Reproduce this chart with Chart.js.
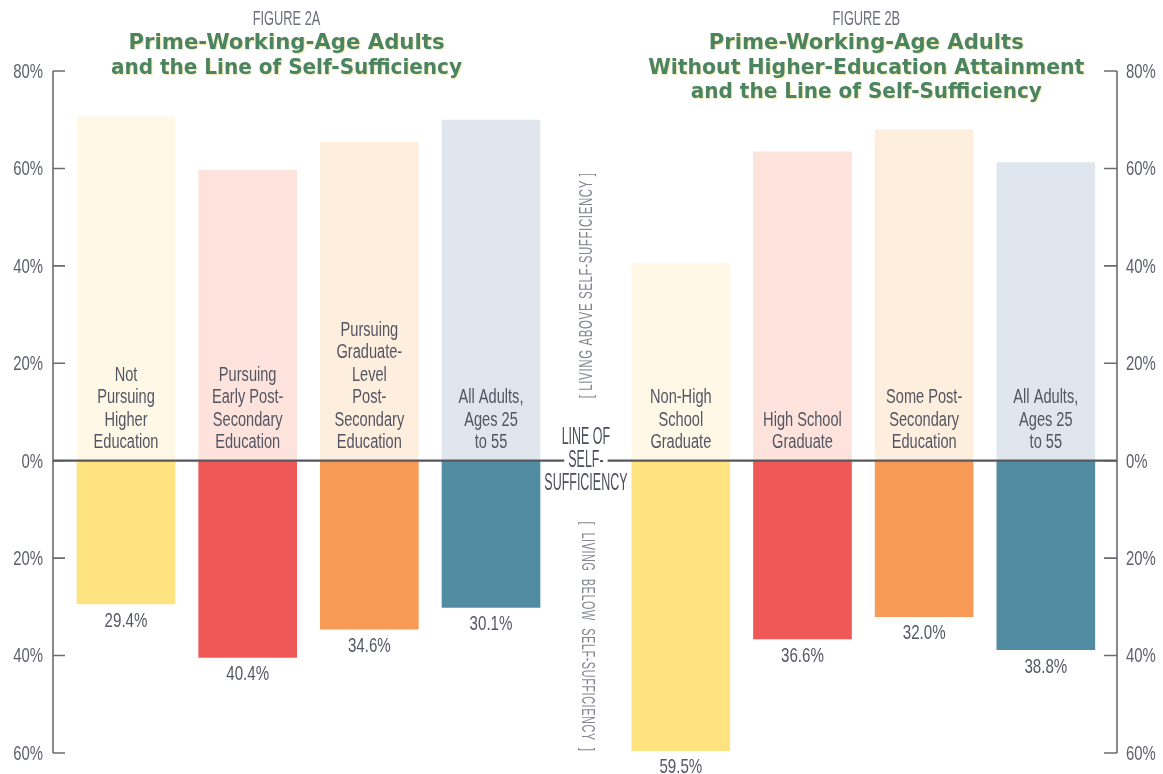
<!DOCTYPE html>
<html><head><meta charset="utf-8">
<script src="https://cdn.jsdelivr.net/npm/chart.js@4.4.1/dist/chart.umd.min.js"></script>
<style>html,body{margin:0;padding:0;background:#fff;}#wrap{width:1163px;height:774px;position:relative;}</style>
</head><body><div id="wrap"><canvas id="c" width="1163" height="774"></canvas></div>
<script>
// ---------- DATA ----------
const figureALabel = 'FIGURE 2A';
const figureBLabel = 'FIGURE 2B';
const figureATitle = ['Prime-Working-Age Adults', 'and the Line of Self-Sufficiency'];
const figureBTitle = ['Prime-Working-Age Adults', 'Without Higher-Education Attainment', 'and the Line of Self-Sufficiency'];
const categoriesA = [['Not','Pursuing','Higher','Education'], ['Pursuing','Early Post-','Secondary','Education'], ['Pursuing','Graduate-','Level','Post-','Secondary','Education'], ['All Adults,','Ages 25','to 55']];
const categoriesB = [['Non-High','School','Graduate'], ['High School','Graduate'], ['Some Post-','Secondary','Education'], ['All Adults,','Ages 25','to 55']];
const aboveA = [70.6, 59.6, 65.4, 69.9];
const belowA = [29.4, 40.4, 34.6, 30.1];
const aboveB = [40.5, 63.4, 68.0, 61.2];
const belowB = [59.5, 36.6, 32.0, 38.8];
const tickValues = [80, 60, 40, 20, 0, -20, -40, -60];
const centerLabel = ['LINE OF', 'SELF-', 'SUFFICIENCY'];
const aboveNote = '[ LIVING ABOVE SELF-SUFFICIENCY ]';
const belowNote = '[  LIVING  BELOW  SELF-SUFFICIENCY  ]';

// ---------- STYLE / LAYOUT ----------
const lightColors = ['#fff8e7', '#fde3dc', '#feeedd', '#dfe6ed'];
const darkColors  = ['#fee380', '#f05757', '#f69a56', '#528ca3'];
const titleWidthsA = [316, 351];
const titleWidthsB = [315, 436, 351];
const GROUP_B_OFFSET = 4.56;
const SANS = '"Liberation Sans", Arial, sans-serif';
const TITLE_FONT = '"DejaVu Sans", Verdana, sans-serif';

const categories = categoriesA.concat(categoriesB);
const above = aboveA.concat(aboveB);
const below = belowA.concat(belowB);
const xOf = i => i < 4 ? i : GROUP_B_OFFSET + (i - 4);
const colorsLight = categories.map((c, i) => lightColors[i % 4]);
const colorsDark = categories.map((c, i) => darkColors[i % 4]);

function drawText(ctx, s, x, y, o) {
  ctx.save();
  ctx.font = (o.weight || 'normal') + ' ' + o.size + 'px ' + (o.family || SANS);
  ctx.fillStyle = o.color;
  ctx.textAlign = o.align || 'center';
  ctx.textBaseline = o.baseline || 'middle';
  if (o.spacing) ctx.letterSpacing = o.spacing + 'px';
  ctx.translate(x, y);
  if (o.rotate) ctx.rotate(o.rotate);
  let sx = o.sx || 1;
  if (o.fitWidth) sx = o.fitWidth / ctx.measureText(s).width;
  ctx.scale(sx, 1);
  if (o.shadow) {
    ctx.shadowColor = o.shadow; ctx.shadowOffsetX = 1; ctx.shadowOffsetY = 1; ctx.shadowBlur = 1;
  }
  ctx.fillText(s, 0, 0);
  ctx.restore();
  return sx;
}

const annotate = {
  id: 'annotate',
  afterDatasetsDraw(chart) {
    const ctx = chart.ctx, ys = chart.scales.y, area = chart.chartArea;
    const metaUp = chart.getDatasetMeta(0), metaDown = chart.getDatasetMeta(1);
    const y0 = ys.getPixelForValue(0);
    const yTop = ys.getPixelForValue(80), yBot = ys.getPixelForValue(-60);

    // axes
    ctx.save();
    ctx.strokeStyle = '#6b6c72'; ctx.lineWidth = 1.6;
    ctx.beginPath();
    ctx.moveTo(area.left, yTop); ctx.lineTo(area.left, yBot);
    ctx.moveTo(area.right, yTop); ctx.lineTo(area.right, yBot);
    tickValues.forEach(v => {
      const py = ys.getPixelForValue(v);
      ctx.moveTo(area.left, py); ctx.lineTo(area.left + 12, py);
      ctx.moveTo(area.right - 13, py); ctx.lineTo(area.right, py);
    });
    ctx.stroke();
    ctx.restore();

    tickValues.forEach(v => {
      const py = ys.getPixelForValue(v) + 1;
      const t = Math.abs(v) + '%';
      drawText(ctx, t, area.left - 10, py, {size: 21, sx: 0.71, color: '#5c5e6a', align: 'right'});
      drawText(ctx, t, area.right + 9, py, {size: 21, sx: 0.71, color: '#5c5e6a', align: 'left'});
    });

    // center label and zero line
    const midX = (metaUp.data[3].x + metaUp.data[4].x) / 2;
    ctx.save();
    ctx.font = '24px ' + SANS;
    const selfW = ctx.measureText(centerLabel[1]).width * 0.52;
    ctx.restore();
    ctx.save();
    ctx.strokeStyle = '#58595e'; ctx.lineWidth = 2.2;
    ctx.beginPath();
    ctx.moveTo(area.left, y0); ctx.lineTo(midX - selfW / 2 - 4, y0);
    ctx.moveTo(midX + selfW / 2 + 4, y0); ctx.lineTo(area.right, y0);
    ctx.stroke();
    ctx.restore();
    centerLabel.forEach((s, k) => {
      drawText(ctx, s, midX, y0 - 23.5 + k * 23, {size: 24, sx: 0.52, color: '#4c4e5a'});
    });

    // vertical notes
    drawText(ctx, aboveNote, midX + 1, ys.getPixelForValue(36), {size: 18, fitWidth: 226, color: '#84868f', rotate: -Math.PI / 2, spacing: 1});
    drawText(ctx, belowNote, midX + 1, ys.getPixelForValue(-36.1), {size: 18, fitWidth: 230, color: '#84868f', rotate: Math.PI / 2, spacing: 1});

    // bar labels
    categories.forEach((lines, i) => {
      const bx = metaUp.data[i].x;
      const n = lines.length;
      lines.forEach((s, k) => {
        drawText(ctx, s, bx, y0 - 18 - (n - 1 - k) * 22.5, {size: 20, sx: 0.73, color: '#535563'});
      });
      const by = metaDown.data[i].y;
      drawText(ctx, below[i].toFixed(1) + '%', bx, by + 17, {size: 21, sx: 0.72, color: '#555763'});
    });

    // titles
    const cxA = (metaUp.data[0].x + metaUp.data[3].x) / 2 - 22;
    const cxB = (metaUp.data[4].x + metaUp.data[7].x) / 2 + 3;
    drawText(ctx, figureALabel, cxA, 19, {size: 21, sx: 0.61, color: '#6d6f7a'});
    drawText(ctx, figureBLabel, cxB, 19, {size: 21, sx: 0.61, color: '#6d6f7a'});
    const tOpt = w => ({size: 21, weight: 'bold', family: TITLE_FONT, fitWidth: w, color: '#4b8462', baseline: 'alphabetic', shadow: 'rgba(236,214,110,0.6)'});
    figureATitle.forEach((s, k) => drawText(ctx, s, cxA, 49 + k * 24.5, tOpt(titleWidthsA[k])));
    figureBTitle.forEach((s, k) => drawText(ctx, s, cxB, 49 + k * 24.5, tOpt(titleWidthsB[k])));
  }
};

new Chart(document.getElementById('c'), {
  type: 'bar',
  data: {
    datasets: [
      {label: 'Living above self-sufficiency', data: above.map((v, i) => ({x: xOf(i), y: v})), backgroundColor: colorsLight, borderWidth: 0, barThickness: 98, grouped: false},
      {label: 'Living below self-sufficiency', data: below.map((v, i) => ({x: xOf(i), y: -v})), backgroundColor: colorsDark, borderWidth: 0, barThickness: 98, grouped: false}
    ]
  },
  options: {
    responsive: false,
    animation: false,
    layout: {padding: {left: 53, right: 46, top: 71, bottom: 21}},
    scales: {
      x: {type: 'linear', min: -0.6, max: 8.145, offset: false, display: false},
      y: {type: 'linear', min: -60, max: 80, display: false}
    },
    plugins: {legend: {display: false}, tooltip: {enabled: false}}
  },
  plugins: [annotate]
});
</script>
</body></html>
